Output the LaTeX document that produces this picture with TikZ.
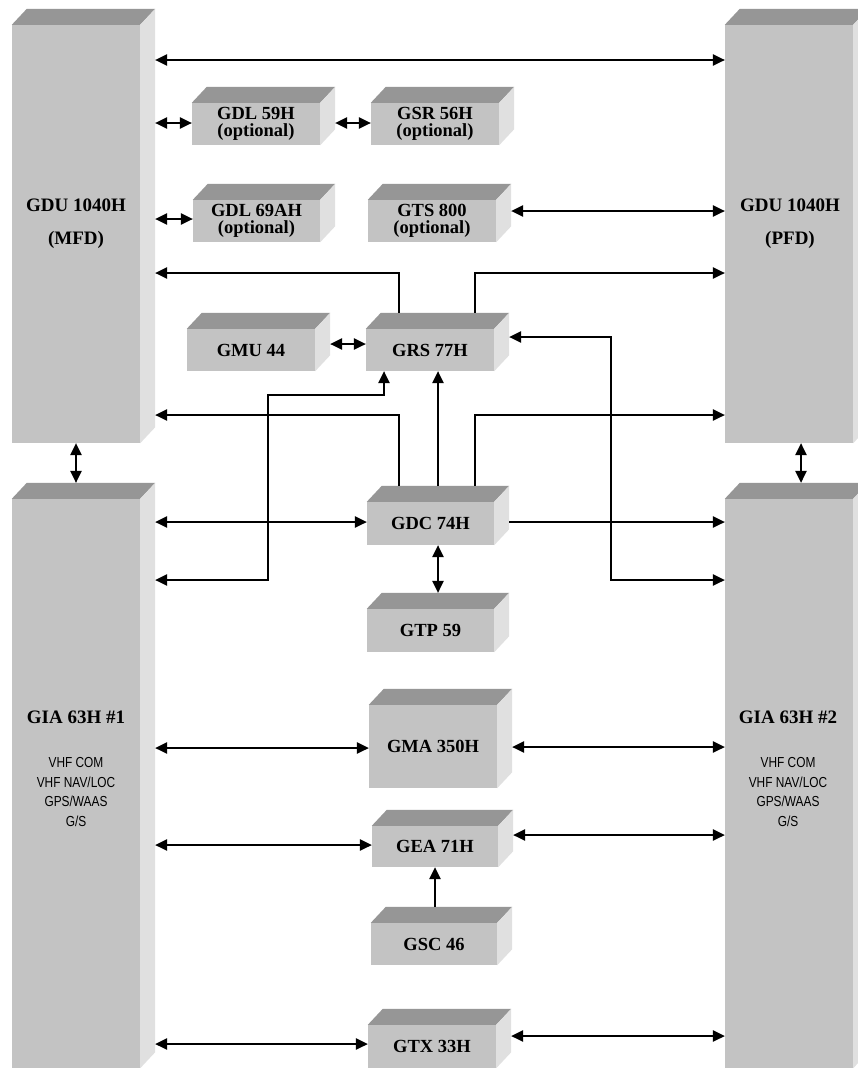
\documentclass[tikz,border=0pt]{standalone}
\usepackage{fontspec}
\setmainfont{Liberation Serif}
\newfontfamily\narrowsans[FakeStretch=0.82]{Liberation Sans}
\usetikzlibrary{arrows.meta,calc}
\definecolor{frontc}{RGB}{195,195,195}
\definecolor{topc}{RGB}{150,150,150}
\definecolor{sidec}{RGB}{224,224,224}
\tikzset{
 front/.style={fill=frontc, inner sep=0pt, font=\fontsize{18.5}{17}\selectfont\bfseries, align=center},
 conn/.style={line width=1.3pt, -{Triangle[length=12pt,width=11.5pt]}},
 dbl/.style={line width=1.3pt, {Triangle[length=12pt,width=11.5pt]}-{Triangle[length=12pt,width=11.5pt]}},
 biglabel/.style={font=\fontsize{19}{19}\selectfont\bfseries},
 sublabel/.style={font=\narrowsans\fontsize{14.5}{19.5}\selectfont, align=center},
}
\newcommand\gbox[6]{%
 \node[front, minimum width={(#4-#2)*1pt}, minimum height={(#5-#3)*1pt}] (#1) at ({(#2+#4)/2},{(#3+#5)/2}) {#6};
 \fill[topc] (#1.north west) -- ++(15pt,16pt) -- ([shift={(15pt,16pt)}]#1.north east) -- (#1.north east) -- cycle;
 \fill[sidec] (#1.north east) -- ++(15pt,16pt) -- ([shift={(15pt,16pt)}]#1.south east) -- (#1.south east) -- cycle;
 \coordinate (#1-side) at ([xshift=15pt]#1.east);
 \coordinate (#1-top) at ([yshift=16pt]#1.north);
}
\begin{document}
\begin{tikzpicture}[x=1pt,y=-1pt]
\useasboundingbox (0,0) rectangle (857,1068);
\fill[white] (0,0) rectangle (857,1068);
% big units
\gbox{mfd}{12}{25}{140}{443}{}
\gbox{pfd}{725}{25}{853}{443}{}
\gbox{gia1}{12}{499}{140}{1068}{}
\gbox{gia2}{725}{499}{853}{1068}{}
\node[biglabel] (mfdl1) at (76,205) {GDU 1040H};
\node[biglabel] (mfdl2) at (76,240) {(MFD)};
\node[biglabel] (pfdl1) at (790,205) {GDU 1040H};
\node[biglabel] (pfdl2) at (790,240) {(PFD)};
\node[biglabel] (gia1l) at (76,717) {GIA 63H \#1};
\node[sublabel] (gia1s) at (76,792) {VHF COM\\VHF NAV/LOC\\GPS/WAAS\\G/S};
\node[biglabel] (gia2l) at (788,717) {GIA 63H \#2};
\node[sublabel] (gia2s) at (788,792) {VHF COM\\VHF NAV/LOC\\GPS/WAAS\\G/S};
% small units
\gbox{gdl59}{192}{103}{320}{145}{GDL 59H\\(optional)}
\gbox{gsr56}{371}{103}{499}{145}{GSR 56H\\(optional)}
\gbox{gdl69}{193}{200}{320}{242}{GDL 69AH\\(optional)}
\gbox{gts800}{368}{200}{496}{242}{GTS 800\\(optional)}
\gbox{gmu44}{187}{329}{315}{371}{GMU 44}
\gbox{grs}{366}{329}{494}{371}{GRS 77H}
\gbox{gdc}{367}{502}{494}{545}{GDC 74H}
\gbox{gtp}{367}{609}{494}{652}{GTP 59}
\gbox{gma}{369}{705}{497}{788}{GMA 350H}
\gbox{gea}{372}{826}{498}{867}{GEA 71H}
\gbox{gsc}{371}{923}{497}{965}{GSC 46}
\gbox{gtx}{368}{1025}{496}{1068}{GTX 33H}
% connectors
\draw[dbl] (mfd-side |- 0,60) -- (pfd.west |- 0,60);
\draw[dbl] (mfd-side |- 0,123) -- (gdl59.west |- 0,123);
\draw[dbl] (gdl59-side |- 0,123) -- (gsr56.west |- 0,123);
\draw[dbl] (mfd-side |- 0,219) -- (gdl69.west |- 0,219);
\draw[dbl] (gts800-side |- 0,211) -- (pfd.west |- 0,211);
\draw[conn] (grs-top -| 399,0) |- (mfd-side |- 0,273);
\draw[conn] (grs-top -| 475,0) |- (pfd.west |- 0,273);
\draw[dbl] (gmu44-side |- 0,344) -- (grs.west |- 0,344);
\draw[dbl] (grs-side |- 0,337) -| (611,580) -- (gia2.west |- 0,580);
\draw[dbl] (gia1-side |- 0,580) -| (268,395) -| (grs.south -| 384,0);
\draw[conn] (gdc-top -| 438,0) -- (grs.south -| 438,0);
\draw[conn] (gdc-top -| 399,0) |- (mfd-side |- 0,415);
\draw[conn] (gdc-top -| 475,0) |- (pfd.west |- 0,415);
\draw[dbl] (gia1-side |- 0,522) -- (gdc.west |- 0,522);
\draw[conn] (gdc-side |- 0,522) -- (gia2.west |- 0,522);
\draw[dbl] (gdc.south -| 438,0) -- (gtp-top -| 438,0);
\draw[dbl] (mfd.south -| 76,0) -- (gia1-top -| 76,0);
\draw[dbl] (pfd.south -| 801,0) -- (gia2-top -| 801,0);
\draw[dbl] (gia1-side |- 0,748) -- (gma.west |- 0,748);
\draw[dbl] (gma-side |- 0,747) -- (gia2.west |- 0,747);
\draw[dbl] (gia1-side |- 0,845) -- (gea.west |- 0,845);
\draw[dbl] (gea-side |- 0,835) -- (gia2.west |- 0,835);
\draw[conn] (gsc-top -| 435,0) -- (gea.south -| 435,0);
\draw[dbl] (gia1-side |- 0,1044) -- (gtx.west |- 0,1044);
\draw[dbl] (gtx-side |- 0,1036) -- (gia2.west |- 0,1036);
\end{tikzpicture}
\end{document}
